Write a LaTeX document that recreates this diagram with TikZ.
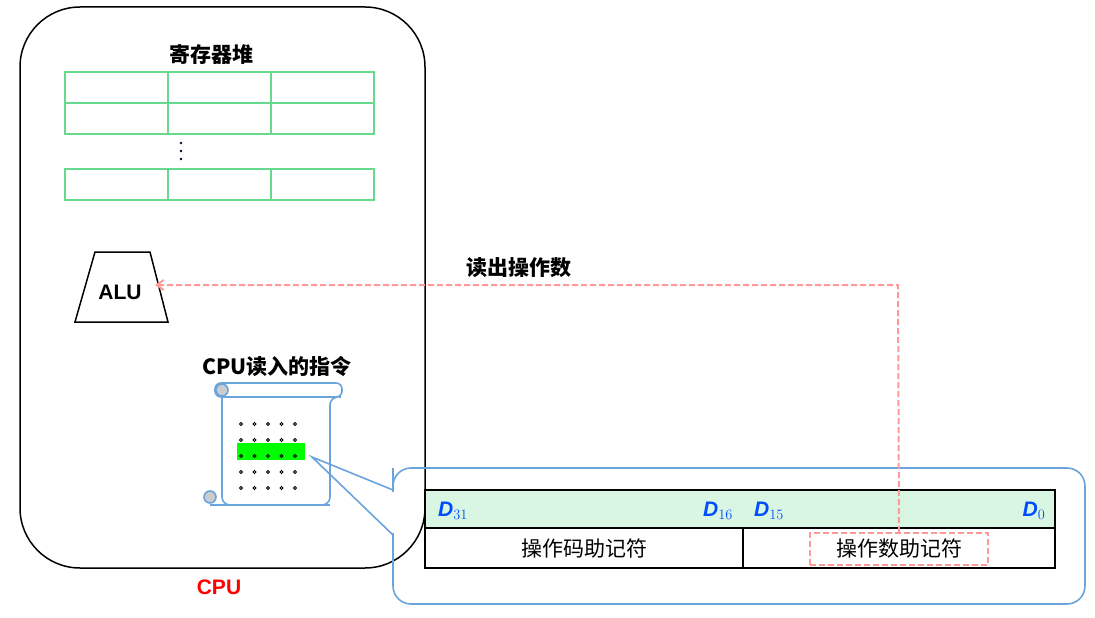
\documentclass[tikz,border=0pt]{standalone}
\usepackage{fontspec}
\setmainfont{Liberation Sans}
\newfontfamily\cjk{Noto Sans CJK SC}
\usetikzlibrary{arrows.meta}
\begin{document}
\begin{tikzpicture}[x=1pt,y=-1pt,
  grid/.style={draw=green!50!teal!60, line width=2pt},
  pinkdash/.style={draw=pink!80!red, dash pattern=on 6pt off 3pt, line width=2pt},
  blue1/.style={draw=cyan!60!blue!60, line width=1.6pt},
  big/.style={font=\cjk\bfseries\fontsize{21}{21}\selectfont},
  dlab/.style={text=blue!70!cyan, font=\bfseries\itshape\fontsize{21}{21}\selectfont}]
\useasboundingbox (0,0) rectangle (1095,618);
% CPU box
\draw[line width=1.5pt, rounded corners=60pt] (20,7) rectangle (425,568);
\node[text=red, font=\bfseries\fontsize{21}{21}\selectfont] (cpu) at (219,587) {CPU};
\node[big] (reg) at (211,54) {寄存器堆};
\foreach \y in {72,103}{\foreach \x in {65,168,271}{\draw[grid] (\x,\y) rectangle ++(103,31);}}
\foreach \x in {65,168,271}{\draw[grid] (\x,169) rectangle ++(103,31);}
\foreach \y/\n in {143/a,151/b,159/c}{\fill[black!80!blue] (181,\y) circle (1.3pt) coordinate (v\n);}
% ALU
\draw[line width=1.5pt] (95,252) -- (150,252) -- (168,322) -- (75,322) -- cycle;
\node[font=\bfseries\fontsize{21}{21}\selectfont] (alu) at (120,292) {ALU};
\coordinate (aluin) at (155,285);
% instruction
\node[big] (ins) at (277,366) {CPU读入的指令};
% scroll
\draw[blue1, rounded corners=8pt, fill=white] (222,505) -- (222,390) -- (340,390) -- (340,397) -- (330,397) -- (330,505) -- cycle;
\draw[blue1, fill=white, rounded corners=6pt] (215,383) rectangle (342,397);
\draw[blue1, fill=gray!40] (222,390) circle (6pt);
\draw[blue1, fill=gray!40] (210,497) circle (6pt);
\draw[blue1] (210,505) -- (330,505);
\fill[green] (237,443) rectangle (305,460);
\foreach \i in {0,...,4}{\foreach \j in {0,...,4}{
  \draw[line width=0.8pt, draw=black] (241+13.5*\i,424+16*\j) circle (1.5pt);}}
% callout
\draw[blue1, rounded corners=18pt] (393,535) -- (393,486) -- (393,468) -- (1085,468) -- (1085,604) -- (393,604) -- (393,535);
\draw[white, line width=3pt] (393,492) -- (393,533);
\coordinate (tip) at (312,457);
\draw[blue1] (393,490) -- (tip) -- (393,535);
% table
\fill[green!50!teal!15] (425,490) rectangle (1055,528);
\draw[line width=1.2pt] (425,490) rectangle (1055,568);
\draw[line width=1.2pt] (425,528) -- (1055,528);
\draw[line width=1.2pt] (743,528) -- (743,568);
\node[dlab] (d31) at (453,511) {D$_{31}$};
\node[dlab] (d16) at (718,511) {D$_{16}$};
\node[dlab] (d15) at (769,511) {D$_{15}$};
\node[dlab] (d0) at (1034,511) {D$_{0}$};
\node[font=\cjk\fontsize{21}{21}\selectfont] (op) at (584,549) {操作码助记符};
\node[pinkdash, font=\cjk\fontsize{21}{21}\selectfont, minimum width=178pt, minimum height=32pt, inner sep=0pt] (opd) at (899,549) {操作数助记符};
% arrow
\draw[pinkdash, -{Straight Barb[length=7pt,width=10pt]}] (opd.north) -- (898,285) -- (aluin);
\node[big] (rd) at (519,268) {读出操作数};
\end{tikzpicture}
\end{document}
